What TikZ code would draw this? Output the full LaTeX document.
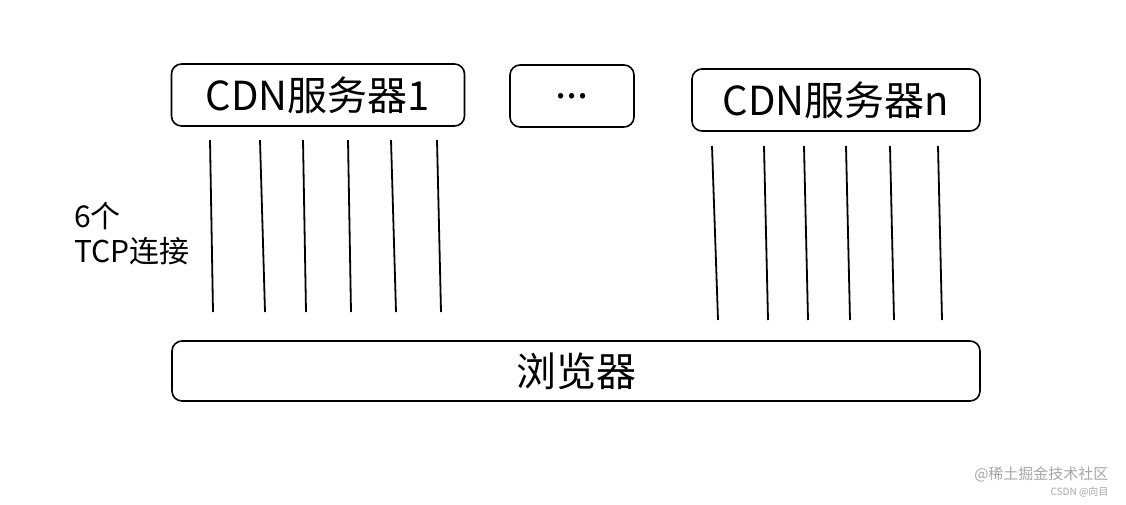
\documentclass[tikz,border=0pt]{standalone}
\usepackage{fontspec}
\setmainfont{Noto Sans CJK SC}
\begin{document}
\begin{tikzpicture}[x=1pt,y=-1pt,
 box/.style={draw,line width=1.6pt,rounded corners=10pt,inner sep=0pt},
 conn/.style={line width=1.8pt}]
\useasboundingbox (0,0) rectangle (1126,504);
\fill[white] (0,0) rectangle (1126,504);
\node[box,minimum width=293pt,minimum height=62pt] (c1) at (318,95) {\fontsize{40}{44}\selectfont CDN服务器1};
\node[box,minimum width=124pt,minimum height=62pt] (dots) at (572,96) {\fontsize{40}{44}\selectfont ...};
\node[box,minimum width=288pt,minimum height=62pt] (cn) at (836,100) {\fontsize{40}{44}\selectfont CDN服务器n};
\node[box,minimum width=808pt,minimum height=60pt] (br) at (576,371) {\fontsize{40}{44}\selectfont 浏览器};
\foreach \a/\b in {210/213,260/265,303/306,348/351,391/396,437/441}
  \draw[conn] (\a,140) -- (\b,312);
\foreach \a/\b in {712/718,764/768,804/808,846/850,890/894,938/942}
  \draw[conn] (\a,146) -- (\b,320);
\node[align=left,font=\fontsize{30}{35}\selectfont,anchor=west,inner sep=0pt] (lab) at (74,234) {6个\\TCP连接};
\node[anchor=east,text=gray!70,font=\fontsize{15}{16}\selectfont] (wm1) at (1112,474) {@稀土掘金技术社区};
\node[anchor=east,text=gray!70,font=\fontsize{10}{11}\selectfont] (wm2) at (1112,492) {CSDN @向目};
\end{tikzpicture}
\end{document}
